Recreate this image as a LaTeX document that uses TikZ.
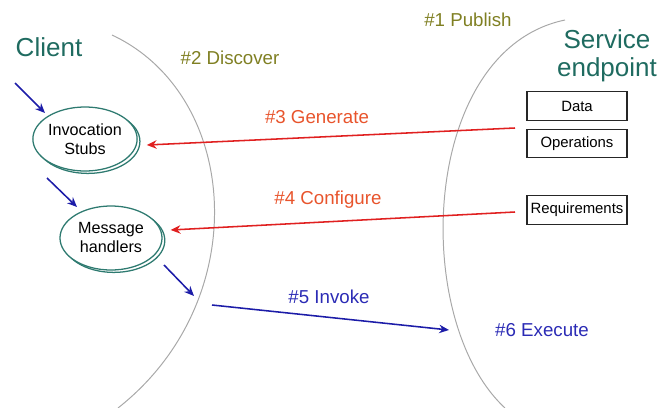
\documentclass[tikz,border=0pt]{standalone}
\usepackage{fontspec}
\setmainfont{Liberation Sans}
\usetikzlibrary{shapes.geometric,shadows,arrows.meta}
\definecolor{clientteal}{HTML}{1F6B60}
\definecolor{stubteal}{HTML}{2E7A70}
\definecolor{stepolive}{HTML}{7F7F22}
\definecolor{steporange}{HTML}{E8542C}
\definecolor{arrowred}{HTML}{E02020}
\definecolor{stepblue}{HTML}{2B2BB5}
\definecolor{arrowblue}{HTML}{1C1CA8}
\definecolor{sidegray}{HTML}{A8A8A8}
\tikzset{
  title/.style={text=clientteal,font=\fontsize{18.5}{20}\selectfont,align=center},
  steplabel/.style={font=\fontsize{13.3}{15}\selectfont},
  stubnode/.style={ellipse,draw=stubteal,line width=0.9pt,fill=white,
    minimum width=2.55cm,minimum height=1.6cm,inner sep=0pt,align=center,
    font=\fontsize{11.5}{13.5}\selectfont,
    copy shadow={shadow xshift=0.7mm,shadow yshift=-0.6mm}},
  partbox/.style={draw=black!85,line width=0.8pt,minimum width=2.5cm,
    minimum height=0.72cm,inner sep=0pt,font=\fontsize{10.6}{12}\selectfont},
  redarrow/.style={draw=arrowred,line width=1.1pt,-{Stealth[length=7pt,width=6pt]}},
  bluearrow/.style={draw=arrowblue,line width=1.1pt,-{Stealth[length=7pt,width=6pt]}},
}

\begin{document}
\begin{tikzpicture}[x=0.025cm,y=-0.025cm]
		\useasboundingbox (0,0) rectangle (666,408);
		% the two sides
		\draw[sidegray,line width=0.7pt] (112,35) .. controls (240,95) and (255,300) .. (118,408);
		\draw[sidegray,line width=0.7pt] (565,20) .. controls (420,50) and (410,320) .. (505,408);
		% titles
		\node[title] (client) at (49,47) {Client};
		\node[title] (service) at (607,56) {Service\\endpoint};
		% client parts
		\node[stubnode] (stubs) at (85,139) {Invocation\\Stubs};
		\node[stubnode] (handlers) at (111,238) {Message\\handlers};
		% service parts
		\node[partbox] (data) at (577,106) {Data};
		\node[partbox] (ops) at (577,143.5) {Operations};
		\node[partbox] (reqs) at (577,210) {Requirements};
		% step labels
		\node[steplabel,text=stepolive] (publish) at (468,20) {\#1 Publish};
		\node[steplabel,text=stepolive] (discover) at (230,58) {\#2 Discover};
		\node[steplabel,text=steporange] (generate) at (317,117) {\#3 Generate};
		\node[steplabel,text=steporange] (configure) at (328,200) {\#4 Configure};
		\node[steplabel,text=stepblue] (invoke) at (329,297) {\#5 Invoke};
		\node[steplabel,text=stepblue] (execute) at (542,330) {\#6 Execute};
		% connectors
		\coordinate (genstart) at (515,128);
		\coordinate (cfgstart) at (515,212);
		\draw[redarrow] (genstart) -- ([shift={(9,6)}]stubs.east);
		\draw[redarrow] (cfgstart) -- ([shift={(8,-8)}]handlers.east);
		\coordinate (in1) at (15,83);
		\coordinate (in1end) at (45,113);
		\coordinate (in2) at (47,178);
		\coordinate (in2end) at (77,207);
		\coordinate (in3) at (164,265);
		\coordinate (in3end) at (194,296);
		\coordinate (callstart) at (212,305);
		\coordinate (callend) at (449,330);
		\draw[bluearrow] (in1) -- (in1end);
		\draw[bluearrow] (in2) -- (in2end);
		\draw[bluearrow] (in3) -- (in3end);
		\draw[bluearrow] (callstart) -- (callend);
\end{tikzpicture}
\end{document}
